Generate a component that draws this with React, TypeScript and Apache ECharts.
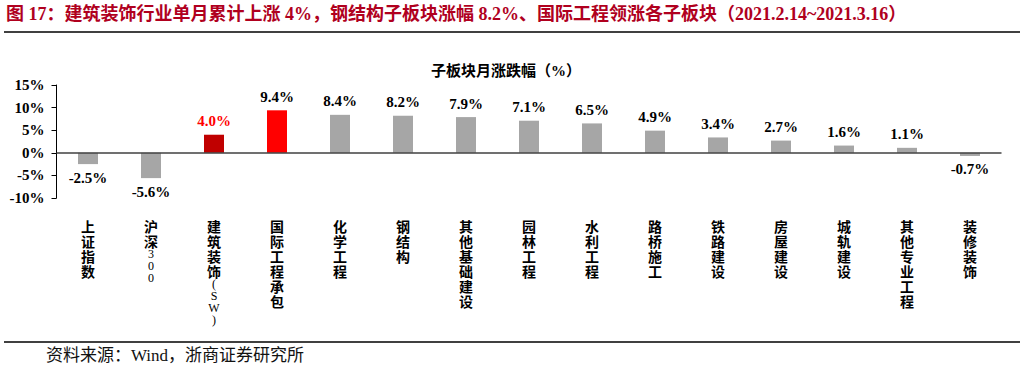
import React, { useEffect, useRef } from "react";
import * as echarts from "echarts";

const TITLE = "图 17：建筑装饰行业单月累计上涨 4%，钢结构子板块涨幅 8.2%、国际工程领涨各子板块（2021.2.14~2021.3.16）";
const SUBTITLE = "子板块月涨跌幅（%）";
const SOURCE = "资料来源：Wind，浙商证券研究所";

const categories = [
  "上证指数",
  "沪深300",
  "建筑装饰(SW)",
  "国际工程承包",
  "化学工程",
  "钢结构",
  "其他基础建设",
  "园林工程",
  "水利工程",
  "路桥施工",
  "铁路建设",
  "房屋建设",
  "城轨建设",
  "其他专业工程",
  "装修装饰",
];

const values = [-2.5, -5.6, 4.0, 9.4, 8.4, 8.2, 7.9, 7.1, 6.5, 4.9, 3.4, 2.7, 1.6, 1.1, -0.7];

const yTicks = { min: -10, max: 15, interval: 5 };

const SERIF = "'Liberation Serif', 'Noto Sans CJK SC', serif";

function colorFor(name: string): string {
  if (name === "建筑装饰(SW)") return "#c00000";
  if (name === "国际工程承包") return "#ff0000";
  return "#a6a6a6";
}

function verticalLabel(name: string): string {
  const chars = Array.from(name);
  return chars
    .map((ch) => (/[\x00-\x7f]/.test(ch) ? `{l|${ch}}` : `{c|${ch}}`))
    .join("\n");
}

export default function App() {
  const ref = useRef<HTMLDivElement>(null);

  useEffect(() => {
    if (!ref.current) return;
    const chart = echarts.init(ref.current, null, { renderer: "svg" });

    const data = values.map((v, i) => {
      const name = categories[i];
      return {
        value: v,
        itemStyle: { color: colorFor(name) },
        label: {
          position: v < 0 ? "bottom" : "top",
          color: name === "建筑装饰(SW)" ? "#ff0000" : "#000000",
        },
      };
    });

    chart.setOption({
      animation: false,
      backgroundColor: "#ffffff",
      title: [
        {
          text: SUBTITLE,
          left: 501,
          top: 58,
          textAlign: "center",
          textStyle: {
            fontFamily: SERIF,
            fontSize: 15,
            fontWeight: "bold",
            color: "#000",
          },
        },
      ],
      graphic: [
        {
          type: "text",
          left: 6,
          top: 5,
          style: {
            text: TITLE,
            fontFamily: SERIF,
            fontSize: 18,
            fontWeight: "bold",
            fill: "#b0001e",
          },
        },
        {
          type: "line",
          shape: { x1: 4, y1: 32, x2: 1020, y2: 32 },
          style: { stroke: "#000", lineWidth: 1.5 },
        },
        {
          type: "line",
          shape: { x1: 4, y1: 342, x2: 1020, y2: 342 },
          style: { stroke: "#000", lineWidth: 1.5 },
        },
        {
          type: "text",
          left: 46,
          top: 347,
          style: {
            text: SOURCE,
            fontFamily: "'Liberation Serif', 'Noto Sans CJK SC', serif",
            fontSize: 17,
            fill: "#111",
          },
        },
      ],
      grid: { left: 56.5, right: 25.5, top: 85, bottom: 174, containLabel: false },
      xAxis: {
        type: "category",
        data: categories,
        axisLine: { show: false, onZero: false },
        axisTick: { show: false },
        axisLabel: {
          interval: 0,
          margin: 20,
          formatter: (v: string) => verticalLabel(v),
          rich: {
            c: {
              fontFamily: "'Noto Sans CJK SC', sans-serif",
              fontWeight: "bold",
              fontSize: 14,
              lineHeight: 15,
              color: "#000",
            },
            l: {
              fontFamily: "'Liberation Serif', serif",
              fontSize: 12,
              lineHeight: 12,
              color: "#000",
            },
          },
        },
        splitLine: { show: false },
      },
      yAxis: {
        type: "value",
        min: yTicks.min,
        max: yTicks.max,
        interval: yTicks.interval,
        axisLine: { show: true, lineStyle: { color: "#000", width: 1 } },
        axisTick: { show: true, length: 5, lineStyle: { color: "#000" } },
        splitLine: { show: false },
        axisLabel: {
          margin: 12,
          formatter: (v: number) => `${v}%`,
          fontFamily: SERIF,
          fontWeight: "bold",
          fontSize: 15,
          color: "#000",
        },
      },
      series: [
        {
          type: "bar",
          data,
          barWidth: 20,
          label: {
            show: true,
            distance: 6,
            formatter: (p: any) => `${Number(p.value).toFixed(1)}%`,
            fontFamily: SERIF,
            fontWeight: "bold",
            fontSize: 15,
          },
          markLine: {
            silent: true,
            symbol: "none",
            label: { show: false },
            lineStyle: { color: "#404040", width: 1.5, type: "solid" },
            data: [{ yAxis: 0 }],
          },
        },
      ],
    });

    return () => chart.dispose();
  }, []);

  return (
    <div
      ref={ref}
      style={{ position: "fixed", left: 0, top: 0, width: 1027, height: 372, background: "#fff" }}
    />
  );
}
